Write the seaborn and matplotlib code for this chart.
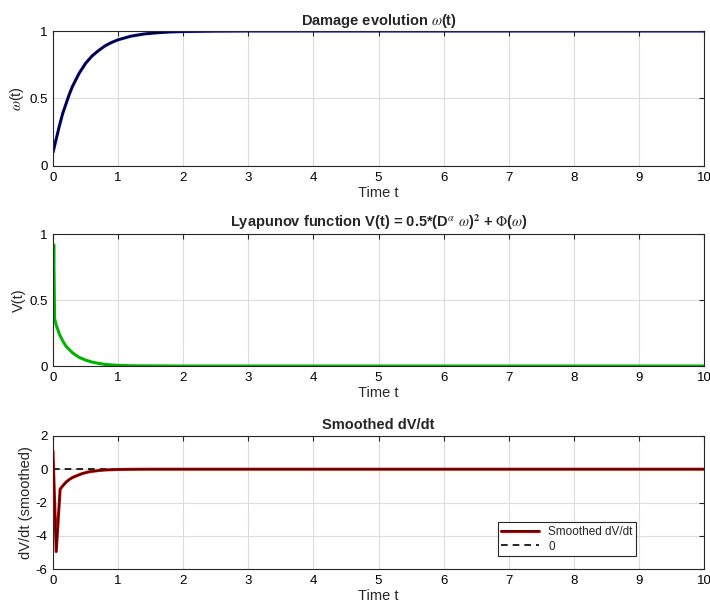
import numpy as np
import pandas as pd
import seaborn as sns
import matplotlib.pyplot as plt
import matplotlib.patheffects as pe

# ───── data ──────────────────────────────────────────────────────────────────
t_omega = [0, 0.05, 0.1, 0.15, 0.2, 0.25, 0.3, 0.4, 0.5, 0.6, 0.7, 0.8, 0.9,
           1.0, 1.2, 1.4, 1.6, 1.8, 2.0, 2.5, 3, 4, 5, 6, 7, 8, 9, 10]
omega = [0.10, 0.20, 0.30, 0.39, 0.46, 0.53, 0.59, 0.685, 0.76, 0.815, 0.855,
         0.89, 0.915, 0.935, 0.962, 0.978, 0.987, 0.993, 0.996, 0.999, 1.0,
         1.0, 1.0, 1.0, 1.0, 1.0, 1.0, 1.0]
# black overlay only visible over the early part
t_omega_k = t_omega[:19]
omega_k = omega[:19]

t_V = [0, 0.012, 0.025, 0.05, 0.1, 0.15, 0.2, 0.3, 0.4, 0.5, 0.6, 0.7, 0.8,
       1.0, 1.2, 1.5, 2, 3, 4, 5, 6, 7, 8, 9, 10]
V = [0.41, 0.92, 0.36, 0.31, 0.24, 0.19, 0.15, 0.10, 0.066, 0.045, 0.03,
     0.02, 0.012, 0.005, 0.002, 0.001, 0, 0, 0, 0, 0, 0, 0, 0, 0]

t_dV = [0, 0.05, 0.11, 0.15, 0.2, 0.25, 0.3, 0.36, 0.45, 0.56, 0.7, 0.82,
        1.0, 1.2, 1.5, 2, 3, 4, 5, 6, 7, 8, 9, 10]
dV = [1.1, -4.95, -1.2, -1.0, -0.78, -0.62, -0.5, -0.4, -0.26, -0.15, -0.08,
      -0.04, -0.015, -0.005, 0, 0, 0, 0, 0, 0, 0, 0, 0, 0]

x_ticks = list(range(0, 11))
y_ticks_01 = [0, 0.5, 1]
y_labels_01 = ["0", "0.5", "1"]
y_ticks_dV = [-6, -4, -2, 0, 2]

# ───── style ─────────────────────────────────────────────────────────────────
sns.set_style("white")
plt.rcParams['font.family'] = ['Liberation Sans', 'DejaVu Sans']
plt.rcParams['mathtext.fontset'] = 'stix'
plt.rcParams['axes.unicode_minus'] = False

fig = plt.figure(figsize=(7.1, 6.08), dpi=100)
left, width = 0.0746, 0.917
ax1 = fig.add_axes([left, 0.727, width, 0.222])
ax2 = fig.add_axes([left, 0.398, width, 0.217])
ax3 = fig.add_axes([left, 0.064, width, 0.219])


def matlab_axes(ax):
    ax.set_xlim(0, 10)
    ax.set_xticks(x_ticks)
    ax.grid(True, color="#dcdcdc", linewidth=0.8)
    ax.set_axisbelow(True)
    for s in ax.spines.values():
        s.set_visible(True)
        s.set_color("#262626")
        s.set_linewidth(0.8)
    ax.tick_params(direction='in', length=3.5, width=0.8, top=True, right=True,
                   labelsize=9.5, colors="#262626", labelcolor="black", pad=4)
    ax.set_xlabel("Time t", fontsize=10.5, labelpad=2)


# 1. omega(t) -------------------------------------------------------------
sns.lineplot(x=t_omega, y=omega, ax=ax1, color="#0000c8", linewidth=2.2)
sns.lineplot(x=t_omega_k, y=omega_k, ax=ax1, color="black", linewidth=1.1)
matlab_axes(ax1)
ax1.set_ylim(0, 1)
ax1.set_yticks(y_ticks_01)
ax1.set_yticklabels(y_labels_01)
ax1.set_ylabel(r"$\omega$(t)", fontsize=10.5, labelpad=2)
ax1.set_title(r"Damage evolution $\omega$(t)", fontsize=10.5,
              fontweight='bold', pad=4)

# 2. Lyapunov V(t) --------------------------------------------------------
sns.lineplot(x=t_V, y=V, ax=ax2, color="#00b400", linewidth=2.2)
matlab_axes(ax2)
ax2.set_ylim(0, 1)
ax2.set_yticks(y_ticks_01)
ax2.set_yticklabels(y_labels_01)
ax2.set_ylabel("V(t)", fontsize=10.5, labelpad=2)
ax2.set_title(r"Lyapunov function V(t) = 0.5*(D$^{\alpha}$ $\omega$)$^{\mathbf{2}}$"
              r" + $\Phi$($\omega$)", fontsize=10.5, fontweight='bold', pad=5)

# 3. smoothed dV/dt -------------------------------------------------------
ax3.axhline(0, color="black", linestyle="--", linewidth=1.2, label="0",
            dashes=(4, 3), zorder=2)
sns.lineplot(x=t_dV, y=dV, ax=ax3, color="#4a0505", linewidth=1.1,
             label="Smoothed dV/dt", zorder=3,
             path_effects=[pe.Stroke(linewidth=2.2, foreground="#d00000"),
                           pe.Normal()])
matlab_axes(ax3)
ax3.set_ylim(-6, 2)
ax3.set_yticks(y_ticks_dV)
ax3.set_ylabel("dV/dt (smoothed)", fontsize=10.5, labelpad=2)
ax3.set_title("Smoothed dV/dt", fontsize=10.5, fontweight='bold', pad=5)
h, l = ax3.get_legend_handles_labels()
order = [l.index("Smoothed dV/dt"), l.index("0")]
leg = ax3.legend([h[i] for i in order], [l[i] for i in order],
                 loc='lower right', bbox_to_anchor=(0.896, 0.097),
                 fontsize=8.5, frameon=True, fancybox=False, framealpha=1,
                 edgecolor="#262626", borderpad=0.3, handlelength=3.2,
                 labelspacing=0.25, borderaxespad=0)
leg.get_frame().set_linewidth(0.8)

fig.savefig("out.png", dpi=100)
